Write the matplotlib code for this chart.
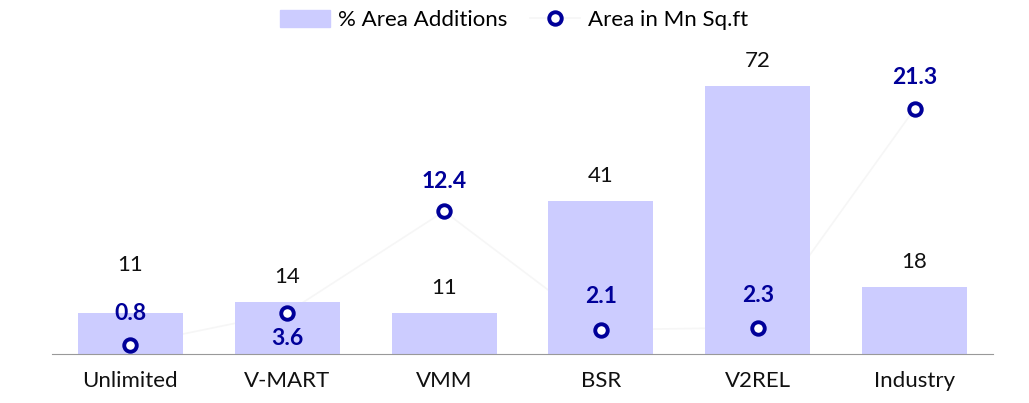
import matplotlib.pyplot as plt
from matplotlib.lines import Line2D
from matplotlib.patches import Patch

categories = ['Unlimited', 'V-MART', 'VMM', 'BSR', 'V2REL', 'Industry']
area_additions = [11, 14, 11, 41, 72, 18]
area_mn_sqft = [0.8, 3.6, 12.4, 2.1, 2.3, 21.3]

plt.rcParams['font.family'] = ['Lato', 'DejaVu Sans']

BAR = '#CCCCFF'
DOT = '#000099'


def main():
    fig = plt.figure(figsize=(10.29, 4.03), dpi=100)
    ax1 = fig.add_axes([52 / 1029, (403 - 354) / 403, 941 / 1029, 298 / 403])
    ax2 = ax1.twinx()

    x = list(range(len(categories)))
    ax1.bar(x, area_additions, width=0.67, color=BAR, zorder=2)
    ax1.set_xlim(-0.5, 5.5)
    ax1.set_ylim(0, 80)
    ax2.set_ylim(0, 25.9)

    # bar labels, Unlimited pushed up to clear the dot label
    bar_off = [48, 25, 25, 25, 25, 25]
    for xi, v, off in zip(x, area_additions, bar_off):
        ax1.annotate(str(v), (xi, v), xytext=(0, off), textcoords='offset pixels',
                     ha='center', va='center', fontsize=16, color='#111111')

    # faint connector, sits behind the bars
    ax1.plot(x, area_mn_sqft, color='#f6f6f6', lw=1.2, zorder=1,
             transform=ax2.transData)
    ax2.plot(x, area_mn_sqft, 'o', ms=9, mfc='white', mec=DOT, mew=2.8, zorder=3)
    dot_off = [31, -26, 30, 33, 32, 31]
    for xi, v, off in zip(x, area_mn_sqft, dot_off):
        ax2.annotate(f'{v:.1f}', (xi, v), xytext=(0, off), textcoords='offset pixels',
                     ha='center', va='center', fontsize=16.5, fontweight='bold', color=DOT)

    for ax in (ax1, ax2):
        for s in ('top', 'right', 'left'):
            ax.spines[s].set_visible(False)
        ax.set_yticks([])
    ax2.spines['bottom'].set_visible(False)
    ax1.spines['bottom'].set_color('#999999')
    ax1.set_xticks(x)
    ax1.set_xticklabels(categories, fontsize=16, color='#111111')
    ax1.tick_params(axis='x', length=0, pad=12)
    ax1.set_zorder(ax2.get_zorder() - 1)
    ax1.patch.set_visible(False)

    handles = [Patch(color=BAR),
               Line2D([], [], color='#f6f6f6', lw=1.2, marker='o', ms=9,
                      mfc='white', mec=DOT, mew=2.8)]
    fig.legend(handles, ['% Area Additions', 'Area in Mn Sq.ft'], loc='center',
               bbox_to_anchor=(514 / 1029, 1 - 20 / 403), ncol=2, frameon=False,
               fontsize=16, handlelength=2.25, handleheight=0.85, handletextpad=0.35,
               columnspacing=1.0)

    fig.savefig('out.png', dpi=100)


if __name__ == '__main__':
    main()
